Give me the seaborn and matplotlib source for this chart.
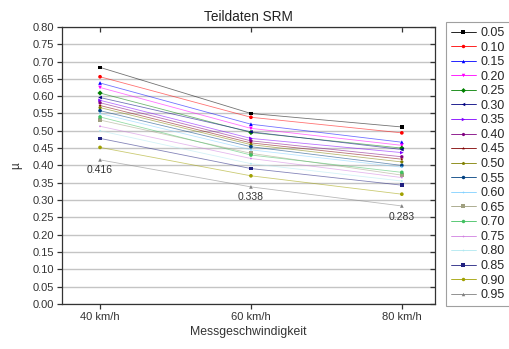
import matplotlib
matplotlib.use("Agg")
import matplotlib.pyplot as plt
import seaborn as sns
import pandas as pd
from matplotlib.lines import Line2D
from matplotlib import markers as mmarkers

speeds = ["40 km/h", "60 km/h", "80 km/h"]
series_labels = ["0.05", "0.10", "0.15", "0.20", "0.25", "0.30", "0.35", "0.40", "0.45", "0.50",
                 "0.55", "0.60", "0.65", "0.70", "0.75", "0.80", "0.85", "0.90", "0.95"]
mu_40 = [0.683, 0.656, 0.638, 0.625, 0.609, 0.596, 0.588, 0.581, 0.573, 0.567,
         0.558, 0.550, 0.531, 0.540, 0.513, 0.500, 0.478, 0.452, 0.416]
mu_60 = [0.550, 0.539, 0.519, 0.507, 0.495, 0.497, 0.478, 0.471, 0.465, 0.460,
         0.454, 0.445, 0.435, 0.430, 0.420, 0.405, 0.391, 0.370, 0.338]
mu_80 = [0.511, 0.494, 0.467, 0.458, 0.450, 0.446, 0.437, 0.425, 0.418, 0.410,
         0.400, 0.395, 0.372, 0.380, 0.365, 0.355, 0.343, 0.317, 0.283]

colors = ["#000000", "#ff0000", "#0000ff", "#ff00ff", "#008000", "#000080", "#8000ff", "#800080",
          "#800000", "#808000", "#004080", "#80d0ff", "#a0a080", "#40c060", "#d080e0", "#b0e8f0",
          "#202080", "#a0a000", "#808080"]
markers = ["s", "o", "^", "v", "D", "<", ">", "h", "*", "p",
           "o", ".", "s", "o", ".", ".", "s", "o", "^"]

rows = []
for lab, a, b, c in zip(series_labels, mu_40, mu_60, mu_80):
    for i, v in enumerate([a, b, c]):
        rows.append({"pos": i, "mu": v, "serie": lab})
df = pd.DataFrame(rows)

sns.set_theme(style="ticks")
plt.rcParams["font.family"] = ["Liberation Sans", "DejaVu Sans"]

fig = plt.figure(figsize=(5.10, 3.49), dpi=100)
ax = fig.add_axes([0.1216, 0.129, 0.853 - 0.1216, 0.923 - 0.129])

for lab, col, mk in zip(series_labels, colors, markers):
    sub = df[df["serie"] == lab]
    sns.lineplot(data=sub, x="pos", y="mu", ax=ax, color=col, linewidth=0.6, alpha=0.55,
                 legend=False)
    sns.scatterplot(data=sub, x="pos", y="mu", ax=ax, color=col, marker=mk,
                    s=7, edgecolor="none", legend=False, zorder=3)

# annotations for lowest series
for i, v in enumerate([mu_40[-1], mu_60[-1], mu_80[-1]]):
    ax.annotate(f"{v:.3f}", (i, v), xytext=(0, -4), textcoords="offset points",
                ha="center", va="top", fontsize=7.5, color="#333333")

ax.set_xlim(-0.252, 2.22)
ax.set_ylim(0, 0.8)
ax.set_xticks([0, 1, 2])
ax.set_xticklabels(speeds)
yt = [i * 0.05 for i in range(17)]
ax.set_yticks(yt)
ax.set_yticklabels([f"{t:.2f}" for t in yt])
ax.yaxis.grid(True, color="#c4c4c4", linewidth=1.0)
ax.xaxis.grid(False)
ax.set_axisbelow(True)

for s in ax.spines.values():
    s.set_visible(True)
    s.set_color("#333333")
    s.set_linewidth(0.9)

ax.tick_params(axis="both", which="major", labelsize=8, colors="#333333", length=3.5, width=0.9,
               top=True, right=True, bottom=True, left=True, direction="out", pad=2.5)
fig.canvas.draw()
for t in ax.xaxis.get_major_ticks():
    t.tick2line.set_marker(mmarkers.TICKDOWN)
for t in ax.yaxis.get_major_ticks():
    t.tick2line.set_marker(mmarkers.TICKLEFT)

ax.set_xlabel("Messgeschwindigkeit", fontsize=8.8, color="#333333", labelpad=3)
ax.set_ylabel("µ", fontsize=8.5, color="#333333", rotation=90, labelpad=7)
ax.set_title("Teildaten SRM", fontsize=9.8, color="#222222", pad=4)

handles = [Line2D([0], [0], color=c, marker=m, markersize=2.5,
                  linewidth=0.6, markeredgewidth=0) for c, m in zip(colors, markers)]
leg = fig.legend(handles, series_labels, loc="upper left", bbox_to_anchor=(446 / 510, 1 - 22 / 349),
                 fontsize=9, frameon=True, fancybox=False, handlelength=2.0, handletextpad=0.35,
                 labelspacing=0.205, borderpad=0.4, borderaxespad=0)
leg.get_frame().set_edgecolor("#888888")
leg.get_frame().set_linewidth(0.8)

fig.savefig("out.png", dpi=100)
